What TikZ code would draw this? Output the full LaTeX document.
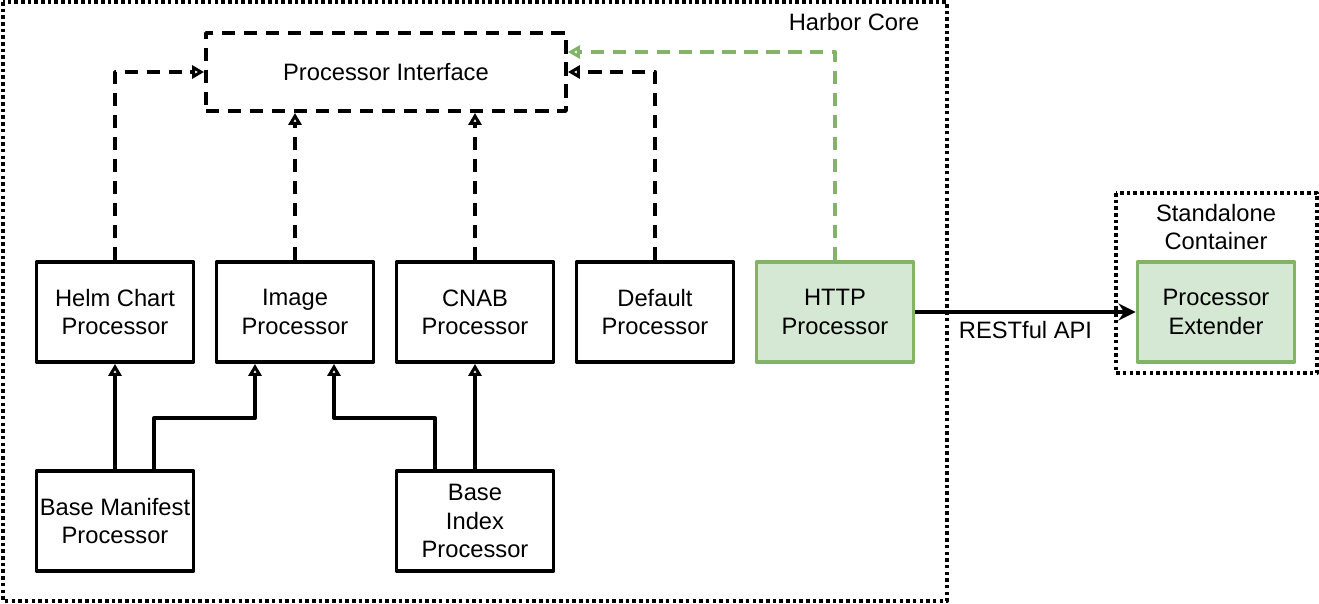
\documentclass[tikz,border=0pt]{standalone}
\usepackage{fontspec}
\setmainfont{Liberation Sans}
\usetikzlibrary{arrows.meta}
\definecolor{extline}{HTML}{82B366}
\definecolor{extfill}{HTML}{D5E8D4}
\begin{document}
\begin{tikzpicture}[x=0.02cm,y=-0.02cm,line join=round,
	font=\fontsize{13.5}{16}\selectfont,
	proc/.style={draw,line width=2.2pt,minimum width=3.14cm,minimum height=2cm,align=center,inner sep=1pt},
	extproc/.style={proc,draw=extline,fill=extfill},
	frame/.style={line width=2.2pt,dash pattern=on 2pt off 1.8pt},
	impl/.style={line width=2.2pt,dash pattern=on 7.5pt off 5pt,-{Triangle[open,length=0.24cm,width=0.26cm]}},
	inh/.style={line width=2.2pt,-{Triangle[open,length=0.24cm,width=0.26cm]}}]
	\useasboundingbox (0,0) rectangle (1319,604);
	% frames
	\draw[frame] (3,2) rectangle (947,601);
	\draw[frame] (1116,193) rectangle (1317,373);
	\node (core) at (854,22) {Harbor Core};
	\node[align=center] (stand) at (1216,227) {Standalone\\Container};
	% processors
	\node[draw,line width=2.2pt,dash pattern=on 7.5pt off 5pt,minimum width=7.2cm,minimum height=1.56cm] (iface) at (386,72) {Processor Interface};
	\node[proc] (helm) at (115,312) {Helm Chart\\Processor};
	\node[proc] (image) at (295,312) {Image\\Processor};
	\node[proc] (cnab) at (475,312) {CNAB\\Processor};
	\node[proc] (default) at (655,312) {Default\\Processor};
	\node[extproc] (http) at (835,312) {HTTP\\Processor};
	\node[proc] (bman) at (115,521) {Base Manifest\\Processor};
	\node[proc] (bidx) at (475,521) {Base\\Index\\Processor};
	\node[extproc] (pext) at (1216,312) {Processor\\Extender};
	\coordinate (mfork) at (255,418);
	\coordinate (ifork) at (334,418);
	% connectors
	\draw[impl] (helm.north) |- (iface.west);
	\draw[impl] (image.north) -- (image.north |- iface.south);
	\draw[impl] (cnab.north) -- (cnab.north |- iface.south);
	\draw[impl] (default.north) |- (iface.east);
	\draw[impl,extline] (http.north) |- ([yshift=0.4cm]iface.east);
	\draw[inh] (bman.north) -- (helm.south);
	\draw[inh] ([xshift=0.78cm]bman.north) |- (mfork) -- (mfork |- image.south);
	\draw[inh] ([xshift=-0.8cm]bidx.north) |- (ifork) -- (ifork |- image.south);
	\draw[inh] (bidx.north) -- (cnab.south);
	\draw[line width=2.2pt,-{Stealth[length=0.34cm,width=0.34cm]}] (http.east) -- node[below=1pt] (rest) {RESTful API} (pext.west);
\end{tikzpicture}
\end{document}
